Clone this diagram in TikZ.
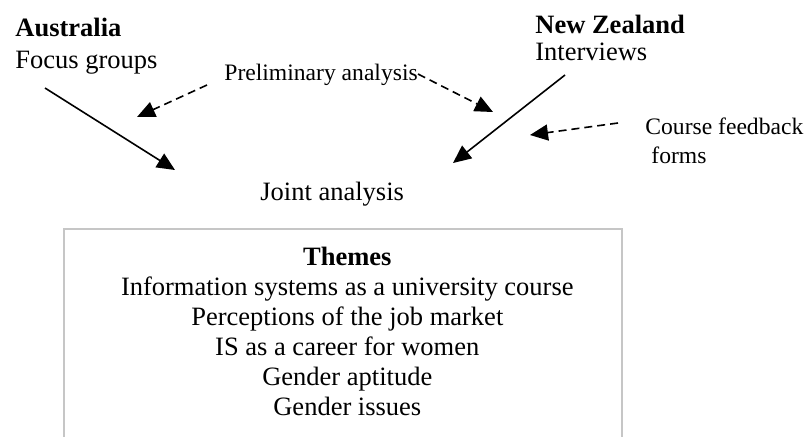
\documentclass[tikz,border=0pt]{standalone}
\usepackage{fontspec}
\setmainfont{Liberation Serif}
\usetikzlibrary{arrows.meta}

\tikzset{
	label/.style={inner sep=0pt, anchor=base west, font=\fontsize{13.25}{15}\selectfont},
	smalllabel/.style={label, font=\fontsize{11.8}{14}\selectfont},
	flow/.style={line width=0.8pt, -{Triangle[length=9pt, width=8pt]}},
	prelim/.style={flow, dash pattern=on 4pt off 2.5pt},
}

\begin{document}
\begin{tikzpicture}[x=0.5pt, y=-0.5pt]
				\useasboundingbox (0,0) rectangle (808,436);

				\node (aus) [label] at (15,36) {\textbf{Australia}};
				\node (focus) [label] at (15,68) {Focus groups};
				\node (nz) [label] at (535,33) {\textbf{New Zealand}};
				\node (interviews) [label] at (535,60) {Interviews};
				\node (prelim) [smalllabel] at (224,80) {Preliminary analysis};
				\node (feedback) [smalllabel] at (645,134) {Course feedback};
				\node (forms) [smalllabel] at (651,163) {forms};
				\node (joint) [label] at (260,200) {Joint analysis};

				\node (themes) [inner sep=0pt, anchor=north] at (344,244) {
					\fontsize{13.25}{15}\selectfont
					\def\arraystretch{1}
					\begin{tabular}{c}
						\textbf{Themes} \\
						Information systems as a university course \\
						Perceptions of the job market \\
						IS as a career for women \\
						Gender aptitude \\
						Gender issues \\
					\end{tabular}
				};
				\draw [gray!45, line width=1.1pt] (64,440) -- (64,229) -- (622,229) -- (622,440);

				\coordinate (aus-from) at (45,88);
				\coordinate (aus-to) at (175,170);
				\coordinate (prelim-left) at (207,85);
				\coordinate (prelim-left-to) at (137,117);
				\coordinate (prelim-right) at (418,74);
				\coordinate (prelim-right-to) at (493,112);
				\coordinate (nz-from) at (565,75);
				\coordinate (nz-to) at (453,163);
				\coordinate (feedback-from) at (618,123);
				\coordinate (feedback-to) at (530,135);

				\draw [flow] (aus-from) -- (aus-to);
				\draw [flow] (nz-from) -- (nz-to);
				\draw [prelim] (prelim-left) -- (prelim-left-to);
				\draw [prelim] (prelim-right) -- (prelim-right-to);
				\draw [prelim] (feedback-from) -- (feedback-to);
			\end{tikzpicture}
\end{document}
